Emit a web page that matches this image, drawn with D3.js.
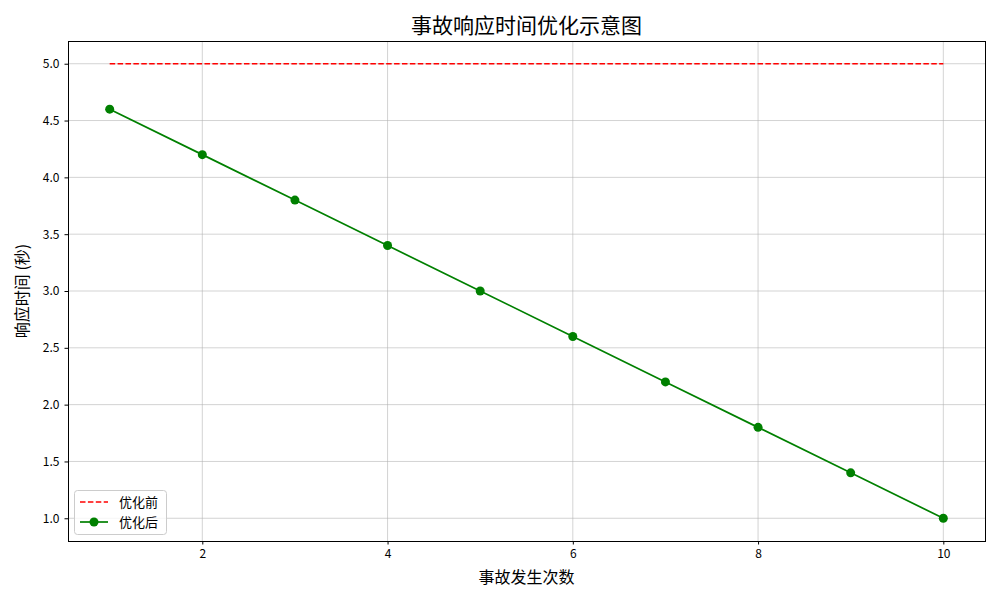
<!DOCTYPE html>
<html><head><meta charset="utf-8">
<script src="https://cdn.jsdelivr.net/npm/d3@7"></script>
<style>body{margin:0;background:#fff;} text{font-family:"Noto Sans CJK SC","DejaVu Sans",sans-serif;}</style>
</head><body>
<svg id="c" width="1000" height="600"></svg>
<script>
const occurrences = [1,2,3,4,5,6,7,8,9,10];
const before = [5,5,5,5,5,5,5,5,5,5];
const after = [4.6,4.2,3.8,3.4,3.0,2.6,2.2,1.8,1.4,1.0];
const xTicks = [2,4,6,8,10];
const yTicks = [1.0,1.5,2.0,2.5,3.0,3.5,4.0,4.5,5.0];
const title = "事故响应时间优化示意图";
const xLabel = "事故发生次数";
const yLabel = "响应时间 (秒)";
const legendLabels = ["优化前","优化后"];

const svg = d3.select("#c");
const L=68,R=985,T=41,B=541;
const x = d3.scaleLinear().domain([0.55,10.45]).range([L,R]);
const y = d3.scaleLinear().domain([0.8,5.2]).range([B,T]);

// grid
const g = svg.append("g");
g.selectAll(".gx").data(xTicks).enter().append("line")
 .attr("x1",d=>x(d)).attr("x2",d=>x(d)).attr("y1",T).attr("y2",B)
 .attr("stroke","#b0b0b0").attr("stroke-opacity",0.7).attr("stroke-width",0.8);
g.selectAll(".gy").data(yTicks).enter().append("line")
 .attr("y1",d=>y(d)).attr("y2",d=>y(d)).attr("x1",L).attr("x2",R)
 .attr("stroke","#b0b0b0").attr("stroke-opacity",0.7).attr("stroke-width",0.8);

// axes
const xa = svg.append("g").attr("transform",`translate(0,${B})`)
 .call(d3.axisBottom(x).tickValues(xTicks).tickFormat(d3.format("d")).tickSize(3.5).tickPadding(5));
const ya = svg.append("g").attr("transform",`translate(${L},0)`)
 .call(d3.axisLeft(y).tickValues(yTicks).tickFormat(d3.format(".1f")).tickSize(3.5).tickPadding(5));
[xa,ya].forEach(a=>{a.select(".domain").remove();a.selectAll("text").attr("font-size",12).attr("fill","#000").attr("font-family","Noto Sans CJK SC");a.selectAll("line").attr("stroke","#000").attr("stroke-width",1);});

// lines
const line = d3.line().x((d,i)=>x(occurrences[i])).y(d=>y(d));
svg.append("path").datum(before).attr("d",line).attr("fill","none")
 .attr("stroke","#ff0000").attr("stroke-width",1.7).attr("stroke-dasharray","5.5,2.4");
svg.append("path").datum(after).attr("d",line).attr("fill","none")
 .attr("stroke","#008000").attr("stroke-width",1.7);
svg.selectAll(".pt").data(after).enter().append("circle")
 .attr("cx",(d,i)=>x(occurrences[i])).attr("cy",d=>y(d)).attr("r",4.5).attr("fill","#008000");

// frame
svg.append("rect").attr("x",L+0.5).attr("y",T+0.5).attr("width",R-L).attr("height",B-T)
 .attr("fill","none").attr("stroke","#000").attr("stroke-width",1);

// title & labels
svg.append("text").attr("x",(L+R)/2).attr("y",33).attr("text-anchor","middle")
 .attr("font-size",21).text(title);
svg.append("text").attr("x",(L+R)/2).attr("y",583).attr("text-anchor","middle")
 .attr("font-size",16).text(xLabel);
svg.append("text").attr("transform",`translate(28,${(T+B)/2}) rotate(-90)`).attr("text-anchor","middle")
 .attr("font-size",16).attr("xml:space","preserve").text(yLabel);

// legend
const lg = svg.append("g");
lg.append("rect").attr("x",74.5).attr("y",490.5).attr("width",92).attr("height",44).attr("rx",3)
 .attr("fill","#fff").attr("fill-opacity",0.8).attr("stroke","#ccc").attr("stroke-width",1);
lg.append("line").attr("x1",80).attr("x2",108).attr("y1",502).attr("y2",502)
 .attr("stroke","#ff0000").attr("stroke-width",1.7).attr("stroke-dasharray","5.5,2.4");
lg.append("line").attr("x1",80).attr("x2",108).attr("y1",522).attr("y2",522)
 .attr("stroke","#008000").attr("stroke-width",1.7);
lg.append("circle").attr("cx",94).attr("cy",522).attr("r",4.5).attr("fill","#008000");
lg.selectAll(".lt").data(legendLabels).enter().append("text")
 .attr("x",119).attr("y",(d,i)=>502+i*20).attr("dy","0.35em").attr("font-size",13).text(d=>d);
</script>
</body></html>
